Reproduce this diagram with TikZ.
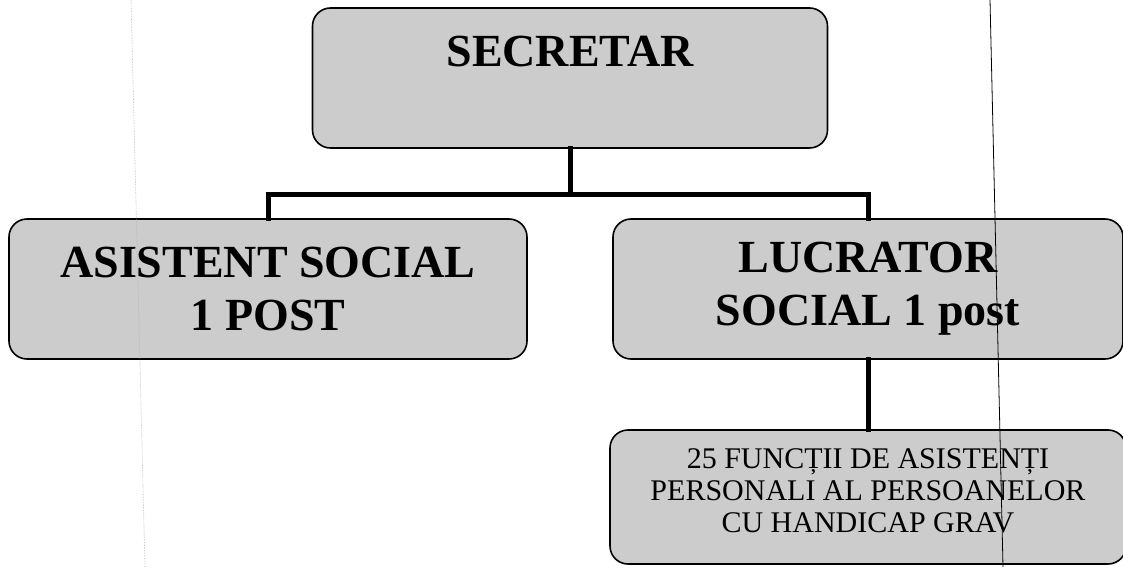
\documentclass[tikz,border=0pt]{standalone}
\usepackage{fontspec}
\setmainfont{Liberation Serif}
\definecolor{boxgray}{gray}{0.80}
\tikzset{
  postbox/.style={draw=black, line width=1.6pt, fill=boxgray, rounded corners=18pt,
    inner sep=0pt, align=center, minimum width=#1, minimum height=140pt},
  bigtext/.style={font=\fontsize{46}{53}\selectfont\bfseries},
  smalltext/.style={font=\fontsize{30}{32}\selectfont},
  link/.style={line width=5pt, line cap=rect}
}
\begin{document}
\begin{tikzpicture}[x=1pt, y=-1pt]
    \clip (0,0) rectangle (1123,567);
    \fill [white] (0,0) rectangle (1123,567);

    \node [postbox=515pt, bigtext] (sec) at (570,78) {SECRETAR\\~};
    \node [postbox=518pt, bigtext] (asist) at (268,289) {ASISTENT SOCIAL\\1 POST};
    \node [postbox=510pt, bigtext] (lucr) at (868,289) {LUCRATOR\\SOCIAL 1 post};
    \node [postbox=516pt, smalltext, minimum height=134pt] (func) at (868,497)
        {25 FUNCȚII DE ASISTENȚI\\PERSONALI AL PERSOANELOR\\CU HANDICAP GRAV\\[-19pt]\mbox{}};

    \coordinate (bar) at (570,194);
    \draw [link] (sec.south) -- (bar);
    \draw [link] (asist.north) |- (bar) -| (lucr.north);
    \draw [link] (lucr.south) -- (func.north);

    % scan marks
    \draw [gray!60, densely dotted, line width=0.6pt] (131,0) -- (145,567);
    \draw [black, line width=0.8pt] (990,0) -- (1003,567);
\end{tikzpicture}
\end{document}
